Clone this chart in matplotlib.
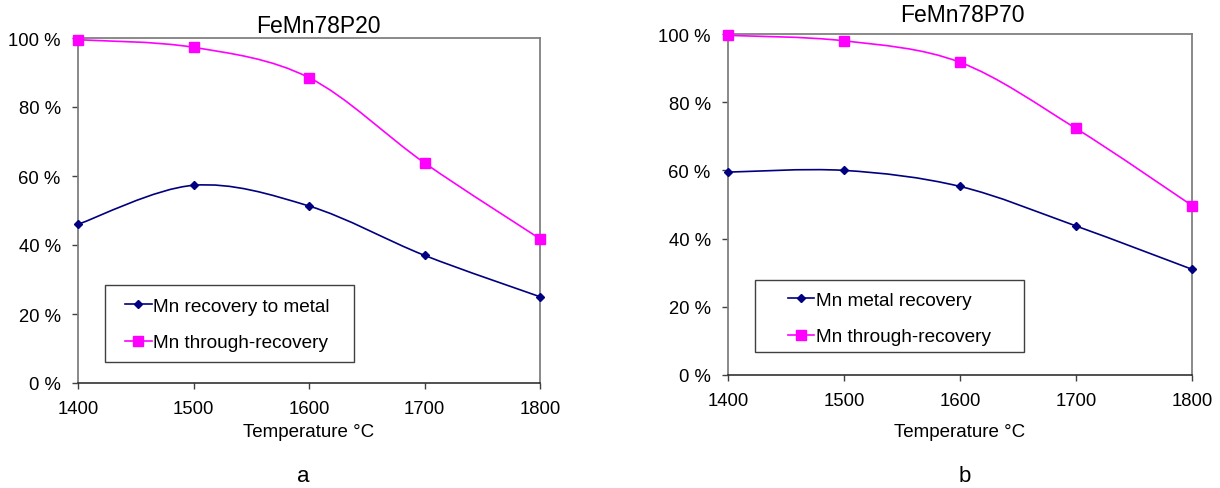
import numpy as np
import matplotlib.pyplot as plt
from matplotlib.path import Path
from matplotlib.patches import PathPatch, Rectangle
from matplotlib.lines import Line2D

plt.rcParams['font.family'] = ['Liberation Sans', 'DejaVu Sans']

# %% data
temperature = [1400, 1500, 1600, 1700, 1800]

# panel a: FeMn78P20
metal_a = [46.0, 57.3, 51.3, 37.0, 25.0]
through_a = [99.5, 97.3, 88.5, 63.8, 41.8]

# panel b: FeMn78P70
metal_b = [59.5, 60.0, 55.3, 43.7, 31.0]
through_b = [99.6, 98.0, 91.7, 72.3, 49.7]

titles = ['FeMn78P20', 'FeMn78P70']
legend_labels = [['Mn recovery to metal', 'Mn through-recovery'],
                 ['Mn metal recovery', 'Mn through-recovery']]
panel_tags = ['a', 'b']

BLUE = '#000080'
MAGENTA = '#FF00FF'


def smooth_path(x, y):
    # excel style smoothed line: catmull-rom segments as cubic beziers
    pts = np.column_stack([x, y]).astype(float)
    ext = np.vstack([pts[0], pts, pts[-1]])
    verts = [pts[0]]
    codes = [Path.MOVETO]
    for i in range(1, len(ext) - 2):
        p0, p1, p2, p3 = ext[i - 1], ext[i], ext[i + 1], ext[i + 2]
        verts += [p1 + (p2 - p0) / 6, p2 - (p3 - p1) / 6, p2]
        codes += [Path.CURVE4] * 3
    return Path(verts, codes)


def draw_series(ax, x, y, color, marker, ms):
    ax.add_patch(PathPatch(smooth_path(x, y), fill=False, edgecolor=color,
                           lw=1.2, clip_on=False, zorder=3))
    ax.plot(x, y, ls='none', marker=marker, ms=ms, color=color,
            clip_on=False, zorder=4)


fig = plt.figure(figsize=(12.2, 4.89), dpi=100)

axes_pos = [[78 / 1220, 105 / 489, 462 / 1220, 345 / 489],
            [728 / 1220, 113 / 489, 464 / 1220, 341 / 489]]
series = [(metal_a, through_a), (metal_b, through_b)]
legend_box = [(0.058, 0.06, 0.54, 0.225), (0.058, 0.068, 0.58, 0.21)]
legend_loc = [(0.081, 0.275), (0.108, 0.272)]
title_x = [0.52, 0.505]
title_pad = [4, 9]
xlabel_pad = [3.8, 9.8]
tag_x = [303 / 1220, 965 / 1220]

for k in range(2):
    ax = fig.add_axes(axes_pos[k])
    metal, through = series[k]
    draw_series(ax, temperature, metal, BLUE, 'D', 4)
    draw_series(ax, temperature, through, MAGENTA, 's', 6.5)

    ax.set_xlim(1400, 1800)
    ax.set_ylim(0, 100)
    ax.set_xticks(temperature)
    ax.set_yticks(range(0, 101, 20))
    ax.set_yticklabels([f'{v} %' for v in range(0, 101, 20)])
    ax.tick_params(labelsize=13.3, length=4, width=1, color='#404040')
    ax.tick_params(axis='y', pad=8.5)
    ax.tick_params(axis='x', pad=8.5)

    for side in ['left', 'top', 'right']:
        ax.spines[side].set_color('#808080')
        ax.spines[side].set_linewidth(1.3)
    ax.spines['bottom'].set_color('#202020')
    ax.spines['bottom'].set_linewidth(1.1)

    ax.set_title(titles[k], fontsize=16.5, pad=title_pad[k], x=title_x[k])
    ax.set_xlabel('Temperature °C', fontsize=13.5, labelpad=xlabel_pad[k])

    # legend frame drawn separately, excel style
    bx, by, bw, bh = legend_box[k]
    ax.add_patch(Rectangle((bx, by), bw, bh, transform=ax.transAxes,
                           fill=False, edgecolor='#404040', lw=1.0, zorder=5))
    handles = [Line2D([], [], color=BLUE, marker='D', ms=4, lw=1.2),
               Line2D([], [], color=MAGENTA, marker='s', ms=6.5, lw=1.2)]
    ax.legend(handles, legend_labels[k], loc='upper left',
              bbox_to_anchor=legend_loc[k], frameon=False, fontsize=13.7,
              handlelength=1.4, handletextpad=0.1, labelspacing=1.0,
              borderpad=0)

    fig.text(tag_x[k], 0.014, panel_tags[k], fontsize=16, ha='center')

fig.savefig('out.png', dpi=100)
